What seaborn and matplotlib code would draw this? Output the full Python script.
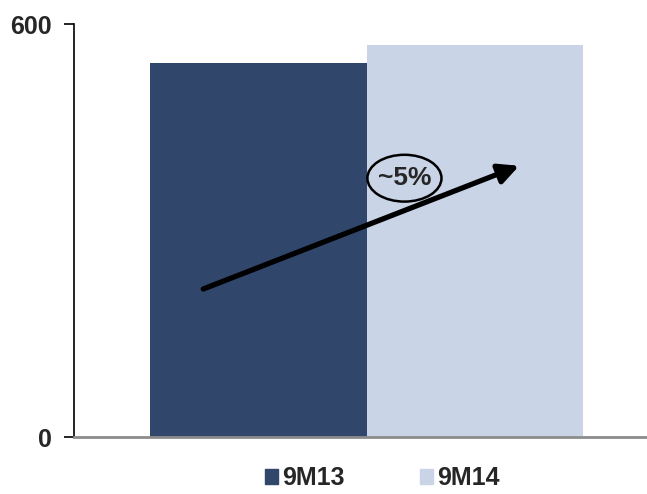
import pandas as pd
import matplotlib.pyplot as plt
import seaborn as sns
from matplotlib.patches import Ellipse

# dados
periodos = ["9M13", "9M14"]
valores = [543, 570]
cores = ["#31466b", "#c9d4e6"]
rotulo_crescimento = "~5%"

df = pd.DataFrame({"grupo": [""] * len(periodos), "periodo": periodos, "valor": valores})

sns.set_style("white")
plt.rcParams["font.family"] = ["Liberation Sans", "DejaVu Sans"]

fig = plt.figure(figsize=(6.47, 4.94), dpi=100)
ax = fig.add_axes([74 / 647, 1 - 437 / 494, 1 - 74 / 647, (437 - 24) / 494])

sns.barplot(data=df, x="grupo", y="valor", hue="periodo", palette=cores,
            linewidth=0, saturation=1, ax=ax, legend=False)

ax.set_xlim(-0.541, 0.5185)
ax.set_ylim(0, 600)
ax.set_yticks([0, 600])
ax.set_yticklabels(["0", "600"], fontsize=18, fontweight="bold")
ax.set_xticks([])
ax.set_xlabel("")
ax.set_ylabel("")
ax.tick_params(axis="y", left=True, length=7, width=1.2, color="black", pad=9)

for s in ["top", "right"]:
    ax.spines[s].set_visible(False)
ax.spines["left"].set_color("black")
ax.spines["left"].set_linewidth(1.2)
ax.spines["bottom"].set_color("#8c8c8c")
ax.spines["bottom"].set_linewidth(2)

# seta de crescimento
ax.annotate("", xy=(0.282, 394), xytext=(-0.302, 215),
            arrowprops=dict(arrowstyle="-|>,head_length=1.2,head_width=0.6",
                            color="black", lw=3.8, shrinkA=0, shrinkB=0))
ax.add_patch(Ellipse((0.070, 376), 0.137, 68, fill=False, edgecolor="black", lw=1.8))
ax.text(0.070, 376, rotulo_crescimento, ha="center", va="center",
        fontsize=19, fontweight="bold")

# legenda
handles = [plt.Rectangle((0, 0), 1, 1, color=c) for c in cores]
fig.legend(handles, periodos, loc="center", bbox_to_anchor=(382 / 647, 1 - 478 / 494),
           ncol=2, frameon=False, handlelength=0.55, handleheight=0.55,
           handletextpad=0.15, columnspacing=3.0,
           prop={"size": 18, "weight": "bold"})

fig.savefig("out.png", dpi=100)
